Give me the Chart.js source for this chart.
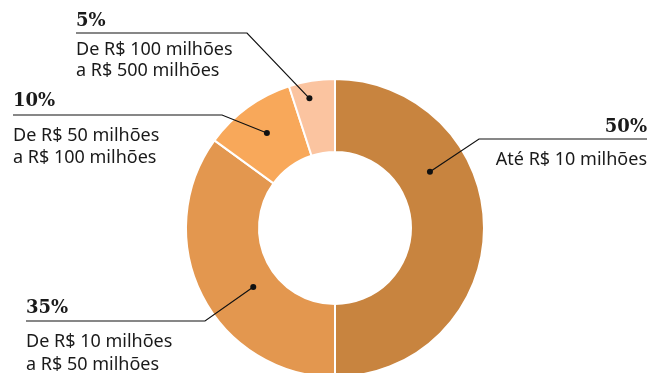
<!DOCTYPE html>
<html>
<head>
<meta charset="utf-8">
<script src="https://cdn.jsdelivr.net/npm/chart.js@4/dist/chart.umd.min.js"></script>
<style>
  html, body { margin: 0; padding: 0; background: #fff; overflow: hidden; }
  #wrap { position: relative; width: 654px; height: 373px; overflow: hidden; }
</style>
</head>
<body>
<div id="wrap"><canvas id="donut" width="654" height="456"></canvas></div>
<script>
// faixas de faturamento, sentido horário a partir do topo
var faixas = [
    ['Até R$ 10 milhões'],
    ['De R$ 10 milhões', 'a R$ 50 milhões'],
    ['De R$ 50 milhões', 'a R$ 100 milhões'],
    ['De R$ 100 milhões', 'a R$ 500 milhões']
];
var percentuais = [50, 35, 10, 5];
var cores = ['#C8843F', '#E3974F', '#F8A85A', '#FBC4A0'];

// posição das chamadas (ponto dentro da fatia + texto)
var chamadas = [
    { frac: 0.33, rfrac: 0.47, align: 'right', x: 647, lineY: 139, elbowX: 479, pctY: 132, descY: [165] },
    { frac: 0.43, rfrac: 0.34, align: 'left', x: 26, lineY: 321, elbowX: 205, pctY: 313, descY: [347, 370] },
    { frac: 0.51, rfrac: 0.56, align: 'left', x: 13, lineY: 115, elbowX: 222, pctY: 106, descY: [141, 163] },
    { frac: 0.38, rfrac: 0.77, align: 'left', x: 76, lineY: 33, elbowX: 247, pctY: 26, descY: [55, 76] }
];

var callouts = {
    id: 'callouts',
    afterDraw: function(chart) {
        var ctx = chart.ctx;
        var arcs = chart.getDatasetMeta(0).data;
        ctx.save();
        arcs.forEach(function(arc, i) {
            var c = chamadas[i];
            var p = arc.getProps(['x', 'y', 'startAngle', 'endAngle', 'innerRadius', 'outerRadius'], true);
            var a = p.startAngle + c.frac * (p.endAngle - p.startAngle);
            var r = p.innerRadius + c.rfrac * (p.outerRadius - p.innerRadius);
            var dx = p.x + r * Math.cos(a);
            var dy = p.y + r * Math.sin(a);

            ctx.strokeStyle = '#111';
            ctx.lineWidth = 1.2;
            ctx.beginPath();
            ctx.moveTo(c.x, c.lineY);
            ctx.lineTo(c.elbowX, c.lineY);
            ctx.lineTo(dx, dy);
            ctx.stroke();

            ctx.fillStyle = '#111';
            ctx.beginPath();
            ctx.arc(dx, dy, 3, 0, Math.PI * 2);
            ctx.fill();

            ctx.textAlign = c.align;
            ctx.textBaseline = 'alphabetic';
            ctx.fillStyle = '#1a1a1a';
            ctx.font = 'bold 18px "DejaVu Serif"';
            ctx.fillText(percentuais[i] + '%', c.x, c.pctY);
            ctx.font = '18px "Noto Sans"';
            faixas[i].forEach(function(linha, j) {
                ctx.fillText(linha, c.x, c.descY[j]);
            });
        });
        ctx.restore();
    }
};

var ctx = document.getElementById('donut').getContext('2d');
var myChart = new Chart(ctx, {
    type: 'doughnut',
    data: {
        labels: faixas.map(function(f) { return f.join(' '); }),
        datasets: [{
            data: percentuais,
            backgroundColor: cores,
            borderColor: '#ffffff',
            borderWidth: 2
        }]
    },
    options: {
        responsive: false,
        animation: false,
        cutout: '51%',
        layout: { padding: { top: 78, bottom: 78, left: 185, right: 169 } },
        plugins: {
            legend: { display: false },
            tooltip: { enabled: false }
        }
    },
    plugins: [callouts]
});
</script>
</body>
</html>
